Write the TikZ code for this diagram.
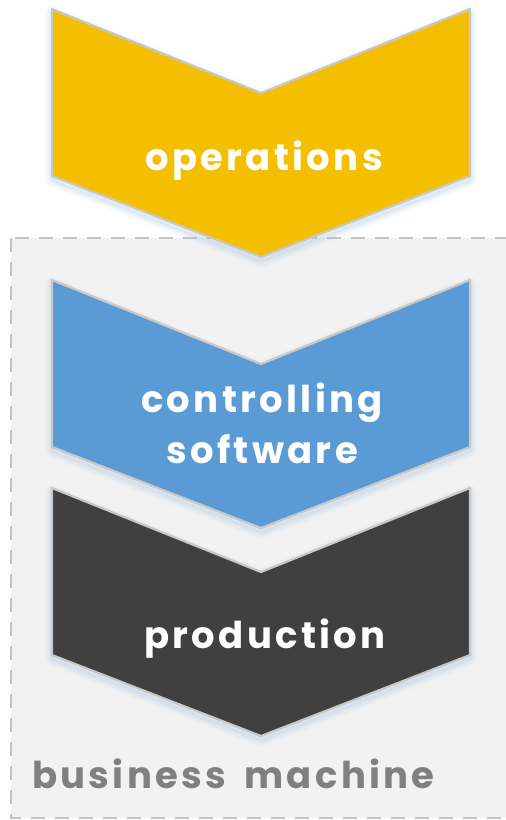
\documentclass[tikz,border=0pt]{standalone}
\usepackage{fontspec}
\setmainfont{Poppins}[LetterSpace=9]
\usetikzlibrary{calc}
\definecolor{cyel}{HTML}{F3BF00}
\definecolor{cblue}{HTML}{5B9BD5}
\definecolor{cdark}{HTML}{404040}
\definecolor{cedge}{HTML}{C8C8C8}
\definecolor{cbox}{HTML}{F2F2F2}
\definecolor{cboxedge}{HTML}{C4C4C4}
\definecolor{cshadow}{HTML}{9DBCE0}
\definecolor{clabel}{HTML}{808080}
\tikzset{
  chevron/.pic={
    \foreach \w/\o in {14/0.06,10/0.08,6/0.10,3/0.12}{
      \draw[cshadow,line width=\w pt,opacity=\o,line join=round]
        (-209,4) -- (0,88) -- (209,4) -- (209,171) -- (0,252) -- (-209,171) -- cycle;
    }
    \path[pic actions] (-209,0) -- (0,84) -- (209,0) -- (209,167) -- (0,248) -- (-209,167) -- cycle;
  },
  chevstyle/.style={draw=cedge,line width=2.2pt,line join=miter,fill=#1},
  chevtext/.style={text=white,font=\bfseries\fontsize{37}{51}\selectfont,align=center,anchor=base,inner sep=0pt},
  boxlabel/.style={text=clabel,font=\bfseries\fontsize{37}{44}\selectfont,anchor=base west,inner sep=0pt},
  machinebox/.style={draw=cboxedge,fill=cbox,line width=2.8pt,dash pattern=on 14pt off 10pt}
}
\begin{document}
\begin{tikzpicture}[x=1pt,y=-1pt]
\useasboundingbox[fill=white] (0,0) rectangle (506,820);
\draw[machinebox] (11,238) rectangle (520,818);
\node[boxlabel] (bm) at (32,788) {business\hspace{7pt} machine};
\pic[chevstyle=cyel] (ops) at (261,9) {chevron};
\pic[chevstyle=cblue] (ctl) at (261,280) {chevron};
\pic[chevstyle=cdark] (prd) at (261,488) {chevron};
\node[chevtext] (opst) at (264,170) {operations};
\node[chevtext] (ctlt) at (262,463) {controlling\\software};
\node[chevtext] (prdt) at (265,648) {production};
\end{tikzpicture}
\end{document}
